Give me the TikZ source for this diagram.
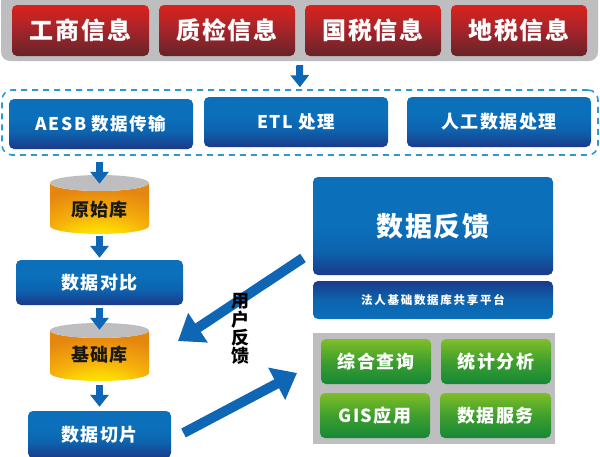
\documentclass[tikz,border=0pt]{standalone}
\usepackage{fontspec}
\setmainfont{Noto Sans CJK SC}
\newfontfamily\cjk{Noto Sans CJK SC}
\usetikzlibrary{arrows.meta}
\definecolor{arrowblue}{HTML}{0F66B4}
\definecolor{panelgrey}{HTML}{BEBEC0}
\definecolor{dashblue}{HTML}{2C9AD0}
\definecolor{blA}{HTML}{0B6FBA}
\definecolor{blB}{HTML}{0D63AE}
\definecolor{blC}{HTML}{1B3A8A}
\definecolor{rdA}{HTML}{DA231D}
\definecolor{rdB}{HTML}{A8242A}
\definecolor{rdC}{HTML}{652428}
\definecolor{grA}{HTML}{7FBE28}
\definecolor{grB}{HTML}{3F9F2E}
\definecolor{grC}{HTML}{148836}
\definecolor{cyY}{HTML}{FFF000}
\definecolor{cyM}{HTML}{F6B00A}
\definecolor{cyO}{HTML}{E5860F}
\pgfdeclareverticalshading{blueg}{100bp}{color(0bp)=(blC);color(25bp)=(blC);color(42bp)=(blB);color(56bp)=(blA);color(75bp)=(blA);color(100bp)=(blA)}
\pgfdeclareverticalshading{bluebig}{100bp}{color(0bp)=(blC);color(25bp)=(blC);color(37bp)=(blB);color(50bp)=(blA);color(75bp)=(blA);color(100bp)=(blA)}
\pgfdeclareverticalshading{bluerev}{100bp}{color(0bp)=(blA);color(25bp)=(blA);color(50bp)=(blB);color(75bp)=(blC);color(100bp)=(blC)}
\pgfdeclareverticalshading{redg}{100bp}{color(0bp)=(rdC);color(25bp)=(rdC);color(52bp)=(rdB);color(75bp)=(rdA);color(100bp)=(rdA)}
\pgfdeclareverticalshading{greeng}{100bp}{color(0bp)=(grC);color(25bp)=(grC);color(50bp)=(grB);color(75bp)=(grA);color(100bp)=(grA)}
\pgfdeclareradialshading{cylg}{\pgfpoint{0bp}{-44bp}}{color(0bp)=(cyY);color(11bp)=(cyY);color(27bp)=(cyM);color(44bp)=(cyO);color(100bp)=(cyO)}
\newcommand{\txt}[3]{{\fontsize{#1}{#1}\selectfont\addfontfeature{LetterSpace=#2}\bfseries #3}}
\tikzset{
  x=1pt,y=-1pt,
  flowbox/.style={inner sep=0pt,rounded corners=5pt,text=white,align=center},
  blue box/.style={flowbox,shading=blueg},
  red box/.style={flowbox,shading=redg},
  green box/.style={flowbox,shading=greeng},
  cyl label/.style={inner sep=0pt,minimum width=99pt,text=black!90},
  small arrow/.style={arrowblue,line width=7pt,-{Triangle[length=12pt,width=18pt]}},
  big arrow/.style={arrowblue,line width=10pt},
}
\begin{document}
\begin{tikzpicture}
\useasboundingbox (0,0) rectangle (600,456);
\clip (0,0) rectangle (600,456);
% source panel
\node[fill=panelgrey,rounded corners=9pt,inner sep=0pt,minimum width=597pt,minimum height=71pt] (srcbar) at (299.5,25.5) {};
\node[red box,minimum width=137pt,minimum height=51pt] (gs) at (80.5,30.5) {\txt{24}{8}{工商信息}};
\node[red box,minimum width=136pt,minimum height=51pt] (zj) at (227,30.5) {\txt{24}{8}{质检信息}};
\node[red box,minimum width=136pt,minimum height=51pt] (gsh) at (373,30.5) {\txt{24}{8}{国税信息}};
\node[red box,minimum width=136pt,minimum height=51pt] (dsh) at (519,30.5) {\txt{24}{8}{地税信息}};
% dashed frame
\node[draw=dashblue,line width=1.6pt,dash pattern=on 6pt off 5pt,rounded corners=10pt,inner sep=0pt,minimum width=596pt,minimum height=65pt] (frame) at (300,122.5) {};
\node[blue box,minimum width=184pt,minimum height=50pt] (aesb) at (101,124) {\txt{17.5}{9}{AESB 数据传输}};
\node[blue box,minimum width=184pt,minimum height=50pt] (etl) at (296,122) {\txt{17.5}{9}{ETL 处理}};
\node[blue box,minimum width=184pt,minimum height=50pt] (rg) at (499,122) {\txt{18}{8}{人工数据处理}};
\draw[small arrow,shorten <=4pt,shorten >=2pt] (srcbar.south) -- (frame.north);
% cylinder 1
\path[shading=cylg] (50,183) -- (50,226) arc[start angle=180,end angle=360,x radius=49.5pt,y radius=8pt] -- (149,183) arc[start angle=0,end angle=-180,x radius=49.5pt,y radius=8pt] -- cycle;
\fill[panelgrey] (99.5,183) ellipse[x radius=49.5pt,y radius=8pt];
\node[cyl label,minimum height=52pt] (cyla) at (99.5,210) {\txt{18}{8}{原始库}};
% cylinder 2
\path[shading=cylg] (50,330.5) -- (50,373) arc[start angle=180,end angle=360,x radius=49.5pt,y radius=8pt] -- (149,330.5) arc[start angle=0,end angle=-180,x radius=49.5pt,y radius=7.5pt] -- cycle;
\fill[panelgrey] (99.5,330.5) ellipse[x radius=49.5pt,y radius=7.5pt];
\node[cyl label,minimum height=50pt] (cylb) at (99.5,355) {\txt{18}{8}{基础库}};
% left column boxes
\node[blue box,minimum width=167pt,minimum height=45pt] (duibi) at (99.5,282.5) {\txt{18}{8}{数据对比}};
\node[blue box,minimum width=143pt,minimum height=47pt] (qiepian) at (99.5,434.5) {\raisebox{2pt}{\txt{18}{8}{数据切片}}};
\draw[small arrow,shorten <=13pt] (cyla.north |- aesb.south) -- (cyla.north);
\draw[small arrow,shorten >=2pt] (cyla.south) -- (duibi.north);
\draw[small arrow,shorten <=3pt] (duibi.south) -- (cylb.north);
\draw[small arrow,shorten <=5pt,shorten >=4pt] (cylb.south) -- (qiepian.north);
% right column
\node[flowbox,shading=bluebig,minimum width=240pt,minimum height=98pt] (fankui) at (433,226) {\txt{27}{7}{数据反馈}};
\node[flowbox,shading=bluerev,minimum width=240pt,minimum height=38pt] (pingtai) at (433,300) {\txt{11.5}{15}{法人基础数据库共享平台}};
\node[fill=panelgrey,inner sep=0pt,minimum width=242pt,minimum height=111pt] (apppanel) at (434,388.5) {};
\node[green box,minimum width=110pt,minimum height=45pt] (zonghe) at (376,361.5) {\txt{18}{8}{综合查询}};
\node[green box,minimum width=110pt,minimum height=45pt] (tongji) at (496,361.5) {\txt{18}{8}{统计分析}};
\node[green box,minimum width=110pt,minimum height=45pt] (gis) at (375,415.5) {\txt{18}{8}{GIS应用}};
\node[green box,minimum width=111pt,minimum height=45pt] (fuwu) at (495.5,415.5) {\txt{18}{8}{数据服务}};
% big arrows
\coordinate (fbtail) at (303,258);
\coordinate (fbtip) at (178,341);
\coordinate (uptail) at (183.5,433);
\coordinate (uptip) at (297,373);
\draw[big arrow,-{Triangle[length=24pt,width=34pt]}] (fbtail) -- (fbtip);
\draw[big arrow,-{Triangle[length=23pt,width=35pt]}] (uptail) -- (uptip);
\node[inner sep=0pt,align=center,text=black,font=\fontsize{18}{18.3}\selectfont\bfseries] (yonghu) at (240,329) {用\\户\\反\\馈};
\end{tikzpicture}
\end{document}
